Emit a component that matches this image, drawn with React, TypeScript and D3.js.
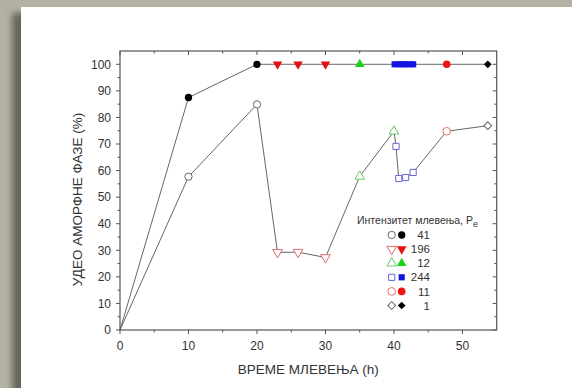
import * as d3 from 'd3';

// milling intensity (legend), in order
const intensities = ['41', '196', '12', '244', '11', '1'];
// lower curve: open markers
const lowerTimes = [[10, 20], [23, 26, 30], [35, 40], [40.3, 40.7, 41.7, 42.8], [47.7], [53.7]];
const lowerValues = [[57.7, 84.9], [29.2, 29.3, 27.3], [57.8, 74.8], [69.1, 57.0, 57.4, 59.3], [74.8], [76.9]];
// upper curve: filled markers
const upperTimes = [[10, 20], [23, 26, 30], [35], [40.1, 40.7, 41.2, 41.7, 42.3, 42.8], [47.7], [53.7]];
const upperValues = [[87.5, 100], [100, 100, 100], [100], [100, 100, 100, 100, 100, 100], [100], [100]];

const xTicks = [0, 10, 20, 30, 40, 50];
const yTicks = [0, 10, 20, 30, 40, 50, 60, 70, 80, 90, 100];

const styles = [
  { shape: d3.symbolCircle, rot: 0, open: '#666', fill: '#000', size: 42 },
  { shape: d3.symbolTriangle, rot: 180, open: '#e06a6a', fill: '#e81010', size: 40 },
  { shape: d3.symbolTriangle, rot: 0, open: '#66cc66', fill: '#19d219', size: 40 },
  { shape: d3.symbolSquare, rot: 0, open: '#6666d6', fill: '#1414e0', size: 38 },
  { shape: d3.symbolCircle, rot: 0, open: '#e87070', fill: '#f01515', size: 46 },
  { shape: d3.symbolSquare, rot: 45, open: '#666', fill: '#000', size: 30 },
];

const font = '"Liberation Sans", Arial, sans-serif';

const App = () => {
  const left = 120;
  const right = 496.7;
  const top = 51;
  const bottom = 330;

  const x = d3.scaleLinear().domain([0, 55]).range([left, right]);
  const y = d3.scaleLinear().domain([0, 105]).range([bottom, top]);

  const lowerPts: [number, number][] = [[0, 0]];
  lowerTimes.forEach((ts, i) => ts.forEach((t, j) => lowerPts.push([t, lowerValues[i][j]])));
  const upperPts: [number, number][] = [[0, 0]];
  upperTimes.forEach((ts, i) => ts.forEach((t, j) => upperPts.push([t, upperValues[i][j]])));
  upperPts.sort((a, b) => a[0] - b[0]);

  const line = d3
    .line<[number, number]>()
    .x((d) => x(d[0]))
    .y((d) => y(d[1]));

  const sym = (i: number) => d3.symbol().type(styles[i].shape).size(styles[i].size)() as string;

  const xMinor = d3.range(5, 55, 10);
  const yMinor = d3.range(5, 105, 10);

  const axisColor = '#555';
  const legendY = (i: number) => 235 + i * 14.1;

  return (
    <svg width={572} height={388} style={{ position: 'absolute', left: 0, top: 0 }}>
      <defs>
        <filter id="blur" x="-20%" y="-20%" width="140%" height="140%">
          <feGaussianBlur stdDeviation="3" />
        </filter>
      </defs>
      <rect width={572} height={388} fill="#b3b1a1" />
      <rect x={12} y={13} width={600} height={400} fill="#67665d" filter="url(#blur)" />
      <rect x={21} y={7} width={560} height={390} fill="#fff" />

      {/* lines */}
      <path d={line(upperPts) as string} fill="none" stroke="#666" strokeWidth={1} />
      <path d={line(lowerPts) as string} fill="none" stroke="#666" strokeWidth={1} />

      {/* frame */}
      <rect x={left} y={top} width={right - left} height={bottom - top} fill="none" stroke={axisColor} strokeWidth={1.2} />

      {/* x ticks */}
      {xTicks.map((t) => (
        <g key={'x' + t}>
          <line x1={x(t)} x2={x(t)} y1={bottom} y2={bottom + 4} stroke={axisColor} />
          <line x1={x(t)} x2={x(t)} y1={top} y2={top + 4} stroke={axisColor} />
          <text x={x(t)} y={349.5} textAnchor="middle" fontSize={12} fontFamily={font} fill="#333">
            {t}
          </text>
        </g>
      ))}
      {xMinor.map((t) => (
        <g key={'xm' + t}>
          <line x1={x(t)} x2={x(t)} y1={bottom} y2={bottom + 2.5} stroke={axisColor} />
          <line x1={x(t)} x2={x(t)} y1={top} y2={top + 2.5} stroke={axisColor} />
        </g>
      ))}
      {/* y ticks */}
      {yTicks.map((t) => (
        <g key={'y' + t}>
          <line x1={left - 4} x2={left} y1={y(t)} y2={y(t)} stroke={axisColor} />
          <line x1={right - 4} x2={right} y1={y(t)} y2={y(t)} stroke={axisColor} />
          <text x={left - 9} y={y(t)} dy="0.36em" textAnchor="end" fontSize={12} fontFamily={font} fill="#333">
            {t}
          </text>
        </g>
      ))}
      {yMinor.map((t) => (
        <g key={'ym' + t}>
          <line x1={left - 2.5} x2={left} y1={y(t)} y2={y(t)} stroke={axisColor} />
          <line x1={right - 2.5} x2={right} y1={y(t)} y2={y(t)} stroke={axisColor} />
        </g>
      ))}

      {/* axis titles */}
      <text x={(left + right) / 2} y={374} textAnchor="middle" fontSize={13.5} fontFamily={font} fill="#333">
        ВРЕМЕ МЛЕВЕЊА (h)
      </text>
      <text
        transform={`translate(82,${199.5}) rotate(-90)`}
        textAnchor="middle"
        fontSize={13.5}
        fontFamily={font}
        fill="#333"
      >
        УДЕО АМОРФНЕ ФАЗЕ (%)
      </text>

      {/* open markers */}
      {lowerTimes.map((ts, i) =>
        ts.map((t, j) => (
          <path
            key={`o${i}-${j}`}
            d={sym(i)}
            transform={`translate(${x(t)},${y(lowerValues[i][j])}) rotate(${styles[i].rot})`}
            fill="#fff"
            stroke={styles[i].open}
            strokeWidth={1}
          />
        ))
      )}
      {/* filled markers */}
      {upperTimes.map((ts, i) =>
        ts.map((t, j) => (
          <path
            key={`f${i}-${j}`}
            d={sym(i)}
            transform={`translate(${x(t)},${y(upperValues[i][j])}) rotate(${styles[i].rot})`}
            fill={styles[i].fill}
          />
        ))
      )}

      {/* legend */}
      <text x={357} y={224} fontSize={10.5} fontFamily={font} fill="#333">
        Интензитет млевења, P<tspan fontSize={9} dy={3}>e</tspan>
      </text>
      {intensities.map((lab, i) => (
        <g key={'l' + lab}>
          <path
            d={sym(i)}
            transform={`translate(391.7,${legendY(i)}) rotate(${styles[i].rot})`}
            fill="#fff"
            stroke={styles[i].open}
          />
          <path d={sym(i)} transform={`translate(401.7,${legendY(i)}) rotate(${styles[i].rot})`} fill={styles[i].fill} />
          <text x={430} y={legendY(i)} dy="0.36em" textAnchor="end" fontSize={11.5} fontFamily={font} fill="#333">
            {lab}
          </text>
        </g>
      ))}
    </svg>
  );
};

export default App;
